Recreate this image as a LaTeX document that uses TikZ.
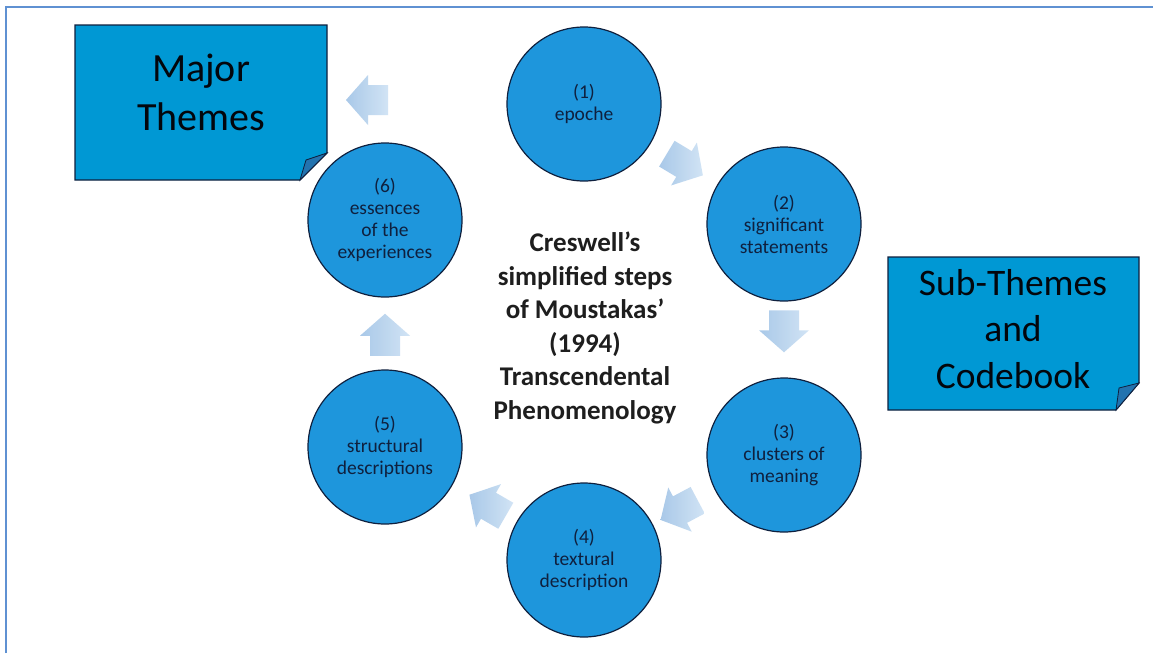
\documentclass[tikz,border=0pt]{standalone}
\usepackage{fontspec}
\setmainfont{Carlito}
\usetikzlibrary{calc}
\definecolor{circfill}{RGB}{30,150,220}
\definecolor{boxfill}{RGB}{0,152,212}
\definecolor{navy}{RGB}{15,32,62}
\definecolor{foldc}{RGB}{35,115,175}
\definecolor{arrowd}{RGB}{160,195,230}
\definecolor{arrowl}{RGB}{205,225,244}
\definecolor{framec}{RGB}{95,145,210}
\definecolor{maintext}{RGB}{30,30,30}
\begin{document}
\begin{tikzpicture}[x=1pt,y=-1pt,
  stepcircle/.style={circle, minimum size=154pt, inner sep=0pt, fill=circfill,
    draw=navy, line width=1.2pt, text=navy, align=center,
    font=\fontsize{19.5}{22}\selectfont},
  themebox/.style={fill=boxfill, draw=navy, line width=1.2pt, line join=miter},
  foldstyle/.style={fill=foldc, draw=navy, line width=0.8pt},
  themetext/.style={align=center, text=black!80!navy},
  centertext/.style={align=center, text=maintext,
    font=\fontsize{27}{33.5}\selectfont\bfseries},
  arrowshape/.style={left color=arrowd, right color=arrowl, draw=none, opacity=0.9},
  barrow/.pic={\path[arrowshape] (-20,-15) -- (0,-15) -- (0,-25) -- (22,0)
      -- (0,25) -- (0,15) -- (-20,15) -- cycle;},
  framestyle/.style={draw=framec, line width=2pt}
]
\useasboundingbox (0,0) rectangle (1153,653);
\fill[white] (0,0) rectangle (1153,653);
\draw[framestyle] (6,653) -- (6,7) -- (1153,7);

% theme boxes
\draw[themebox] (75,25) -- (327,25) -- (327,153) -- (300,180) -- (75,180) -- cycle;
\draw[foldstyle] (300,180) -- (327,153) -- (306,160) -- cycle;
\node[themetext, font=\fontsize{40}{49}\selectfont] (major) at (201,92) {Major\\Themes};

\draw[themebox] (888,257) -- (1139,257) -- (1139,383) -- (1116,410) -- (888,410) -- cycle;
\draw[foldstyle] (1116,410) -- (1139,383) -- (1119,388) -- cycle;
\node[themetext, font=\fontsize{37.5}{46.5}\selectfont] (sub) at (1013,329) {Sub-Themes\\and\\Codebook};

% steps
\node[stepcircle] (s1) at (584,104) {(1)\\epoche};
\node[stepcircle] (s2) at (784,224) {(2)\\significant\\statements};
\node[stepcircle] (s3) at (784,455) {(3)\\clusters of\\meaning};
\node[stepcircle] (s4) at (584,560) {(4)\\textural\\description};
\node[stepcircle] (s5) at (385,447) {(5)\\structural\\descriptions};
\node[stepcircle] (s6) at (385,220) {(6)\\essences\\of the\\experiences};

\node[centertext] (title) at (585,328) {Creswell’s\\simplified steps\\of Moustakas’\\(1994)\\Transcendental\\Phenomenology};

% block arrows
\pic[rotate=-31] at ($(s1)!0.5!(s2)$) {barrow};
\pic[rotate=-90] at ($(s2)!0.46!(s3)$) {barrow};
\pic[rotate=-152] at ($(s3)!0.52!(s4)$) {barrow};
\pic[rotate=150] at ($(s4)!0.48!(s5)$) {barrow};
\pic[rotate=90] at ($(s5)!0.49!(s6)$) {barrow};
\pic[rotate=180] at ($(s6)+(-17,-120)$) {barrow};
\end{tikzpicture}
\end{document}
